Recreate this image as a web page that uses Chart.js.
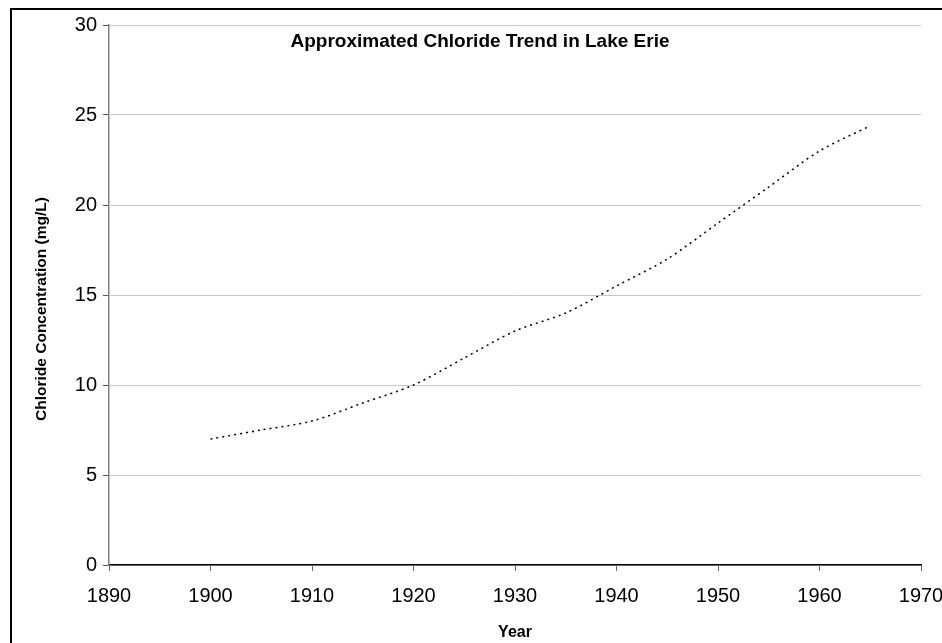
<!DOCTYPE html>
<html lang="en">

<head>
  <meta charset="UTF-8" />
  <title>Approximated Chloride Trend in Lake Erie</title>
  <script src="https://cdn.jsdelivr.net/npm/chart.js@4"></script>
  <style>
    html, body { margin: 0; padding: 0; background: #fff; }
    #wrap { width: 942px; height: 643px; position: relative; }
  </style>
</head>

<body>
  <div id="wrap">
    <canvas id="chloride"></canvas>
  </div>

  <script>
    // values
    let years = [1900, 1905, 1910, 1915, 1920, 1925, 1930, 1935, 1940, 1945, 1950, 1955, 1960, 1965];
    let chloride = [7.0, 7.5, 8.0, 9.0, 10.0, 11.5, 13.0, 14.0, 15.5, 17.0, 19.0, 21.0, 23.0, 24.4];
    let xTicks = [1890, 1900, 1910, 1920, 1930, 1940, 1950, 1960, 1970];
    let yTicks = [0, 5, 10, 15, 20, 25, 30];

    let chartTitle = 'Approximated Chloride Trend in Lake Erie';
    let xTitle = 'Year';
    let yTitle = 'Chloride Concentration (mg/L)';

    let points = [];
    for (let i = 0; i < years.length; i++) {
      points.push({ x: years[i], y: chloride[i] });
    }

    let fontName = '"Liberation Sans", Arial, sans-serif';

    // frame round the whole chart, title inside the plot, y axis title
    let extras = {
      id: 'extras',
      beforeDraw(chart) {
        let ctx = chart.ctx;
        ctx.save();
        ctx.fillStyle = '#fff';
        ctx.fillRect(0, 0, chart.width, chart.height);
        ctx.strokeStyle = '#000';
        ctx.lineWidth = 2;
        ctx.strokeRect(11, 9, chart.width + 20, chart.height + 20);
        ctx.restore();
      },
      afterDraw(chart) {
        let ctx = chart.ctx;
        let area = chart.chartArea;
        ctx.save();
        ctx.fillStyle = '#000';
        ctx.font = 'bold 19px ' + fontName;
        ctx.textAlign = 'center';
        ctx.textBaseline = 'middle';
        ctx.fillText(chartTitle, area.left + 371, area.top + 17);

        // y title, a bit below the middle of the plot like the original
        ctx.translate(42, area.top + area.height / 2 + 14);
        ctx.rotate(-Math.PI / 2);
        ctx.font = 'bold 15.5px ' + fontName;
        ctx.fillText(yTitle, 0, 0);
        ctx.restore();
      }
    };

    let ctx = document.getElementById('chloride').getContext('2d');
    let chart = new Chart(ctx, {
      type: 'line',
      data: {
        datasets: [{
          label: 'Chloride',
          data: points,
          borderColor: '#000',
          borderWidth: 1.5,
          borderDash: [2, 4],
          pointRadius: 0,
          tension: 0.3,
          fill: false
        }]
      },
      options: {
        responsive: true,
        maintainAspectRatio: false,
        animation: false,
        layout: { padding: { left: 20, right: 21, top: 25, bottom: 0 } },
        plugins: {
          legend: { display: false },
          tooltip: { enabled: false }
        },
        scales: {
          x: {
            type: 'linear',
            min: xTicks[0],
            max: xTicks[xTicks.length - 1],
            afterBuildTicks(scale) {
              scale.ticks = xTicks.map(v => ({ value: v }));
            },
            afterFit(scale) {
              scale.height = 78;
              scale.paddingLeft = 0;
              scale.paddingRight = 0;
            },
            border: { display: true, color: '#000', width: 1.5 },
            grid: { drawOnChartArea: false, drawTicks: true, tickLength: 6, tickColor: '#666' },
            ticks: {
              color: '#000',
              font: { family: fontName, size: 20 },
              padding: 13,
              maxRotation: 0,
              callback: v => String(v)
            },
            title: {
              display: true,
              text: xTitle,
              color: '#000',
              font: { family: fontName, size: 16, weight: 'bold' },
              padding: { top: 0, bottom: 1 }
            }
          },
          y: {
            min: yTicks[0],
            max: yTicks[yTicks.length - 1],
            afterBuildTicks(scale) {
              scale.ticks = yTicks.map(v => ({ value: v }));
            },
            afterFit(scale) {
              scale.width = 89;
              scale.paddingTop = 0;
              scale.paddingBottom = 0;
            },
            border: { display: true, color: '#808080', width: 1.5 },
            grid: { color: '#c8c8c8', lineWidth: 1, drawTicks: true, tickLength: 6, tickColor: '#555' },
            ticks: {
              color: '#000',
              font: { family: fontName, size: 20 },
              padding: 6
            }
          }
        }
      },
      plugins: [extras]
    });
  </script>
</body>

</html>
